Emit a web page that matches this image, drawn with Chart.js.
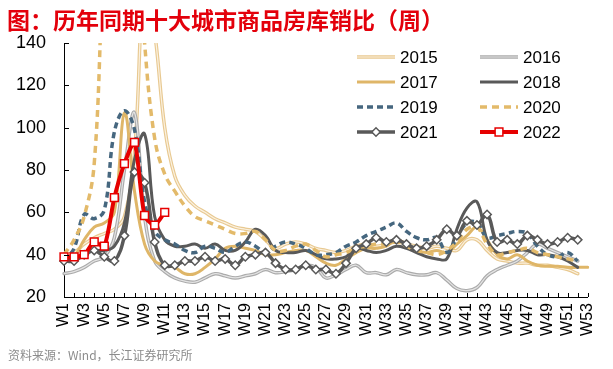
<!DOCTYPE html>
<html>
<head>
<meta charset="utf-8">
<script src="https://cdn.jsdelivr.net/npm/chart.js@4.4.1/dist/chart.umd.min.js"></script>
<style>
  body { margin: 0; background: #fff; }
  #wrap { position: relative; width: 613px; height: 369px; }
  #title { position: absolute; left: 7px; top: 2px; font: bold 23px "Noto Sans CJK SC", sans-serif; color: #e3000b; white-space: nowrap; }
  #src { position: absolute; left: 8px; top: 346px; font: 12px "Noto Sans CJK SC", sans-serif; color: #8c8c8c; white-space: nowrap; }
  canvas { position: absolute; left: 0; top: 0; }
</style>
</head>
<body>
<div id="wrap">
  <canvas id="chart" width="613" height="369"></canvas>
  <div id="title">图：历年同期十大城市商品房库销比（周）</div>
  <div id="src">资料来源：Wind，长江证券研究所</div>
</div>
<script>
// weeks W1..W53
const weeks = [];
for (let i = 1; i <= 53; i++) weeks.push('W' + i);

const yTicks = [20, 40, 60, 80, 100, 120, 140];

// values (peaks above 140 are clipped in the original)
const y2015 = [40, 41, 45, 48, 50, 52, 58, 88, 170, 145, 100, 77, 68, 63, 60, 57, 55, 53, 52, 51, 47, 43, 45, 46, 45, 43, 42, 41, 42, 44, 45, 44, 45, 46, 45, 44, 43, 44, 43, 42, 47, 47, 42, 38, 37, 36, 36, 35, 35, 34, 33, 31];
const y2016 = [31, 32, 34, 37, 39, 48, 80, 107, 58, 37, 32, 29, 27.5, 27, 29, 31, 30, 29, 30, 31, 33, 31.5, 32, 33, 35, 34, 29, 30.5, 33, 35, 31.5, 31.5, 30.5, 33, 31.5, 30.5, 30.5, 31.5, 28, 24, 23, 24.5, 30, 33, 35, 37, 41, 45, 43, 41, 39, 37];
const y2017 = [37, 39, 47, 53, 55, 60, 107, 70, 45, 37, 35, 34, 31, 31, 34, 38, 43, 44, 43, 42, 40, 40, 41, 42, 42, 39, 36, 35, 38, 41, 43, 43, 44, 47, 45, 42, 41, 42, 41, 45, 49, 53, 47, 40, 38, 40, 37, 35, 34.5, 34.5, 34, 34, 34];
const y2018 = [38, 38, 40, 42, 42, 44, 55, 85, 97, 58, 47, 44, 44, 45, 43, 45, 42, 42, 46, 52, 49, 42, 41, 41, 42, 40, 38, 38, 39, 43, 42, 41, 42, 44, 43, 41, 39, 38, 38, 52, 62, 65, 47, 41, 41, 42, 42, 40, 40, 39, 37, 34];
const y2019 = [37, 43, 59, 57, 61, 98, 108, 99, 65, 51, 47, 45, 42, 41, 44, 43, 41, 44, 46, 44, 41, 44, 46, 45, 43, 40, 40, 41, 44, 46, 49, 51, 53, 55, 51, 48, 47, 48, 41, 48, 55, 55, 48, 49, 50, 51, 50, 44, 40, 39, 41, 37];
const y2020 = [40, 47, 58, 83, 180, 220, 230, 210, 140, 95, 78, 70, 63, 58, 56, 54, 52, 50, 50, 51, 47, 42, 42, 44, 45, 42, 39, 40, 41, 43, 44, 45, 45, 46, 44, 42, 41, 40, 42, 46, 52, 53, 45, 40, 41, 42, 43, 41, 40, 39, 38, 37];
const y2021 = [37, 37, 40, 42, 39, 37, 49, 79, 74, 46, 35, 35, 37, 37, 39, 37, 38, 35, 39, 40, 41, 36, 33, 33, 35, 33, 33, 31, 36, 43, 45, 48, 46, 47, 45, 43, 44, 47, 52, 49, 56, 54, 59, 46, 47, 45, 49, 47, 45, 46, 48, 47];
const y2022 = [39, 39, 40, 46, 44, 67, 83, 93, 58.5, 54, 60];

const base = { fill: false, pointRadius: 0, tension: 0.4, borderCapStyle: 'round', borderJoinStyle: 'round' };

// listed top-most first (Chart.js draws dataset 0 last)
const datasets = [
  { ...base, label: '2022', data: y2022, borderColor: '#e60000', borderWidth: 4, tension: 0.25,
    pointStyle: 'rect', pointRadius: 5.5, pointBackgroundColor: '#fff', pointBorderColor: '#e60000', pointBorderWidth: 1.5 },
  { ...base, label: '2021', data: y2021, borderColor: '#595959', borderWidth: 3.5,
    pointStyle: 'rectRot', pointRadius: 4.2, pointBackgroundColor: '#fff', pointBorderColor: '#595959', pointBorderWidth: 1.5 },
  { ...base, label: '2020', data: y2020, borderColor: '#e3ba6a', borderWidth: 3.5, borderDash: [7, 5], borderCapStyle: 'butt' },
  { ...base, label: '2019', data: y2019, borderColor: '#46677f', borderWidth: 3.5, borderDash: [6, 4], borderCapStyle: 'butt' },
  { ...base, label: '2018', data: y2018, borderColor: '#595959', borderWidth: 3 },
  { ...base, label: '2017', data: y2017, borderColor: '#dfb668', borderWidth: 3 },
  { ...base, label: '2016-in', data: y2016, borderColor: '#e4e4e4', borderWidth: 1.2 },
  { ...base, label: '2016', data: y2016, borderColor: '#ababab', borderWidth: 3.5 },
  { ...base, label: '2015-in', data: y2015, borderColor: '#fbf1e0', borderWidth: 1.2 },
  { ...base, label: '2015', data: y2015, borderColor: '#e8c991', borderWidth: 3.5 }
];

const legendYears = ['2015', '2016', '2017', '2018', '2019', '2020', '2021', '2022'];

// ticks on the inner side of the axes, like the original
const innerTicks = {
  id: 'innerTicks',
  afterDatasetsDraw(chart) {
    const { ctx, chartArea: a, scales: { x, y } } = chart;
    ctx.save();
    ctx.strokeStyle = '#000';
    ctx.lineWidth = 1;
    ctx.beginPath();
    x.ticks.forEach((t, i) => {
      const px = Math.round(x.getPixelForTick(i)) + 0.5;
      ctx.moveTo(px, a.bottom);
      ctx.lineTo(px, a.bottom - 4);
    });
    y.ticks.forEach((t, i) => {
      const py = Math.round(y.getPixelForTick(i)) + 0.5;
      ctx.moveTo(a.left, py);
      ctx.lineTo(a.left + 5, py);
    });
    ctx.stroke();
    ctx.restore();
  }
};

// two column legend inside the plot
const gridLegend = {
  id: 'gridLegend',
  afterDraw(chart) {
    const ctx = chart.ctx;
    const sets = chart.data.datasets;
    ctx.save();
    legendYears.forEach((yr, i) => {
      const col = i % 2, row = Math.floor(i / 2);
      const x0 = col === 0 ? 357 : 480;
      const yy = 57 + row * 25;
      const x1 = x0 + 38;
      const ds = sets.find(d => d.label === yr);
      const inner = sets.find(d => d.label === yr + '-in');
      ctx.lineCap = 'butt';
      ctx.setLineDash(ds.borderDash || []);
      ctx.strokeStyle = ds.borderColor;
      ctx.lineWidth = ds.borderWidth;
      ctx.beginPath(); ctx.moveTo(x0, yy); ctx.lineTo(x1, yy); ctx.stroke();
      ctx.setLineDash([]);
      if (inner) {
        ctx.strokeStyle = inner.borderColor;
        ctx.lineWidth = inner.borderWidth;
        ctx.beginPath(); ctx.moveTo(x0, yy); ctx.lineTo(x1, yy); ctx.stroke();
      }
      if (ds.pointStyle) {
        ctx.fillStyle = ds.pointBackgroundColor;
        ctx.strokeStyle = ds.pointBorderColor;
        ctx.lineWidth = ds.pointBorderWidth;
        Chart.helpers.drawPoint(ctx, { pointStyle: ds.pointStyle, radius: ds.pointRadius, borderWidth: ds.pointBorderWidth, rotation: 0 }, (x0 + x1) / 2, yy);
      }
      ctx.fillStyle = '#000';
      ctx.font = '17px "Liberation Sans", Arial, sans-serif';
      ctx.textBaseline = 'middle';
      ctx.textAlign = 'left';
      ctx.fillText(yr, x1 + 5, yy + 1);
    });
    ctx.restore();
  }
};

new Chart(document.getElementById('chart'), {
  type: 'line',
  data: { labels: weeks, datasets: datasets },
  options: {
    responsive: false,
    animation: false,
    layout: { padding: { top: 43, right: 17, bottom: 0, left: 0 } },
    plugins: { legend: { display: false }, tooltip: { enabled: false }, title: { display: false } },
    scales: {
      x: {
        offset: false,
        grid: { display: true, drawOnChartArea: false, drawTicks: false },
        border: { display: true, color: '#000', width: 1 },
        afterFit(s) { s.height = 72; },
        ticks: {
          autoSkip: false, maxRotation: 90, minRotation: 90, padding: 6, color: '#000',
          font: { family: '"Liberation Sans", Arial, sans-serif', size: 16 },
          callback: (v, i) => (i % 2 === 0 ? weeks[i] : '')
        }
      },
      y: {
        min: 20, max: 140,
        grid: { display: true, drawOnChartArea: false, drawTicks: false },
        border: { display: true, color: '#000', width: 1 },
        afterFit(s) { s.width = 64; },
        afterBuildTicks(s) { s.ticks = yTicks.map(v => ({ value: v })); },
        ticks: { padding: 18, color: '#000', font: { family: '"Liberation Sans", Arial, sans-serif', size: 18 } }
      }
    }
  },
  plugins: [innerTicks, gridLegend]
});
</script>
</body>
</html>
